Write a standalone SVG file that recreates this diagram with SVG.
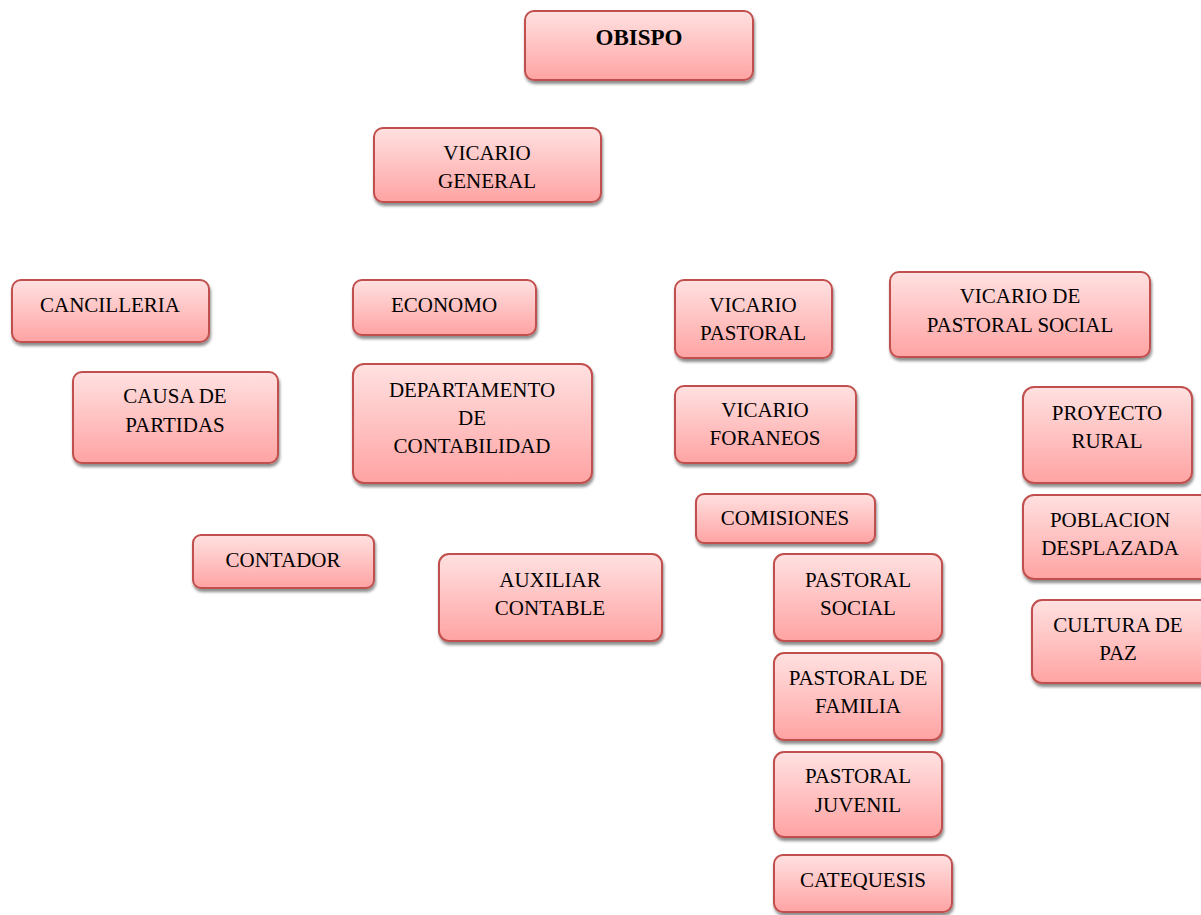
<svg xmlns="http://www.w3.org/2000/svg" width="1201" height="915" viewBox="0 0 1201 915">
<defs>
<linearGradient id="g" x1="0" y1="0" x2="0" y2="1">
<stop offset="0" stop-color="#ffe1e1"/>
<stop offset="1" stop-color="#ffa3a3"/>
</linearGradient>
<filter id="sh" x="-10%" y="-10%" width="125%" height="140%">
<feDropShadow dx="1" dy="3" stdDeviation="1.5" flood-color="#000" flood-opacity="0.45"/>
</filter>
</defs>
<style>
rect.b{fill:url(#g);stroke:#c0504d;stroke-width:2;filter:url(#sh)}
text{font-family:"Liberation Serif","Times New Roman",serif;font-size:21px;fill:#000;text-anchor:middle}
text.bold{font-weight:bold;font-size:23px}
</style>
<rect width="1201" height="915" fill="#fff"/>
<g id="connectors"></g>
<g id="obispo"><rect class="b" x="525" y="11" width="228" height="69" rx="9"/><text class="bold" x="639" y="45">OBISPO</text></g>
<g id="vicario-general"><rect class="b" x="374" y="128" width="227" height="74" rx="9"/><text x="487" y="160">VICARIO</text><text x="487" y="188">GENERAL</text></g>
<g id="cancilleria"><rect class="b" x="12" y="280" width="197" height="62" rx="9"/><text x="110" y="312">CANCILLERIA</text></g>
<g id="economo"><rect class="b" x="353" y="280" width="183" height="55" rx="9"/><text x="444" y="312">ECONOMO</text></g>
<g id="vicario-pastoral"><rect class="b" x="675" y="280" width="157" height="78" rx="9"/><text x="753" y="312">VICARIO</text><text x="753" y="340">PASTORAL</text></g>
<g id="vicario-pastoral-social"><rect class="b" x="890" y="272" width="260" height="85" rx="9"/><text x="1020" y="303">VICARIO DE</text><text x="1020" y="332">PASTORAL SOCIAL</text></g>
<g id="causa-partidas"><rect class="b" x="73" y="372" width="205" height="91" rx="9"/><text x="175" y="403">CAUSA DE</text><text x="175" y="432">PARTIDAS</text></g>
<g id="departamento-contabilidad"><rect class="b" x="353" y="364" width="239" height="119" rx="11"/><text x="472" y="397">DEPARTAMENTO</text><text x="472" y="425">DE</text><text x="472" y="453">CONTABILIDAD</text></g>
<g id="vicario-foraneos"><rect class="b" x="675" y="386" width="181" height="77" rx="9"/><text x="765" y="417">VICARIO</text><text x="765" y="445">FORANEOS</text></g>
<g id="proyecto-rural"><rect class="b" x="1023" y="387" width="169" height="96" rx="11"/><text x="1107" y="420">PROYECTO</text><text x="1107" y="448">RURAL</text></g>
<g id="comisiones"><rect class="b" x="696" y="494" width="179" height="49" rx="8"/><text x="785" y="525">COMISIONES</text></g>
<g id="poblacion-desplazada"><rect class="b" x="1023" y="495" width="190" height="84" rx="11"/><text x="1110" y="527">POBLACION</text><text x="1110" y="555">DESPLAZADA</text></g>
<g id="contador"><rect class="b" x="193" y="535" width="181" height="53" rx="8"/><text x="283" y="567">CONTADOR</text></g>
<g id="auxiliar-contable"><rect class="b" x="439" y="554" width="223" height="87" rx="10"/><text x="550" y="587">AUXILIAR</text><text x="550" y="615">CONTABLE</text></g>
<g id="pastoral-social"><rect class="b" x="774" y="554" width="168" height="87" rx="10"/><text x="858" y="587">PASTORAL</text><text x="858" y="615">SOCIAL</text></g>
<g id="cultura-paz"><rect class="b" x="1032" y="600" width="180" height="83" rx="10"/><text x="1118" y="632">CULTURA DE</text><text x="1118" y="660">PAZ</text></g>
<g id="pastoral-familia"><rect class="b" x="774" y="653" width="168" height="87" rx="10"/><text x="858" y="685">PASTORAL DE</text><text x="858" y="713">FAMILIA</text></g>
<g id="pastoral-juvenil"><rect class="b" x="774" y="752" width="168" height="85" rx="10"/><text x="858" y="783">PASTORAL</text><text x="858" y="812">JUVENIL</text></g>
<g id="catequesis"><rect class="b" x="774" y="855" width="178" height="57" rx="9"/><text x="863" y="887">CATEQUESIS</text></g>
</svg>
